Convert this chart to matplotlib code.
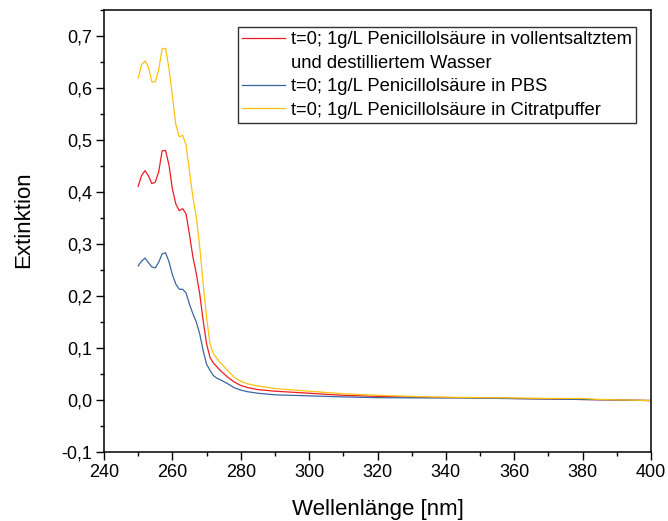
import numpy as np
import matplotlib
matplotlib.use('Agg')
import matplotlib.pyplot as plt
from matplotlib.ticker import MultipleLocator, FuncFormatter
from matplotlib.lines import Line2D

plt.rcParams['font.family'] = ['Liberation Sans', 'DejaVu Sans']

# wavelength grid [nm]
wl = [250, 251, 252, 253, 254, 255, 256, 257, 258, 259, 260, 261, 262, 263,
      264, 265, 266, 267, 268, 269, 270, 271, 272, 273, 274, 276, 278, 280,
      282, 285, 290, 300, 310, 320, 335, 345, 360, 370, 380, 385, 400]

# extinction, deionised + distilled water
ext_water = [0.411, 0.432, 0.441, 0.431, 0.416, 0.419, 0.439, 0.479, 0.480,
             0.452, 0.406, 0.377, 0.364, 0.368, 0.358, 0.318, 0.275, 0.243,
             0.204, 0.153, 0.108, 0.082, 0.071, 0.064, 0.057, 0.045, 0.035,
             0.028, 0.024, 0.020, 0.017, 0.013, 0.009, 0.007, 0.005, 0.0045,
             0.003, 0.002, 0.001, 0.0005, -0.001]

# extinction, PBS
ext_pbs = [0.258, 0.267, 0.273, 0.264, 0.256, 0.254, 0.265, 0.281, 0.283,
           0.266, 0.241, 0.223, 0.213, 0.213, 0.206, 0.184, 0.166, 0.150,
           0.127, 0.095, 0.069, 0.057, 0.047, 0.042, 0.039, 0.032, 0.024,
           0.019, 0.016, 0.013, 0.010, 0.008, 0.006, 0.0045, 0.004, 0.004,
           0.0026, 0.002, 0.001, 0.0005, -0.001]

# extinction, citrate buffer
ext_citrat = [0.619, 0.645, 0.652, 0.640, 0.612, 0.612, 0.635, 0.676, 0.676,
              0.638, 0.585, 0.530, 0.506, 0.509, 0.490, 0.440, 0.390, 0.352,
              0.294, 0.224, 0.159, 0.108, 0.089, 0.080, 0.072, 0.058, 0.044,
              0.036, 0.031, 0.027, 0.022, 0.017, 0.012, 0.009, 0.006, 0.005,
              0.004, 0.003, 0.003, 0.001, -0.001]

labels = ['t=0; 1g/L Penicillolsäure in vollentsaltztem',
          'und destilliertem Wasser',
          't=0; 1g/L Penicillolsäure in PBS',
          't=0; 1g/L Penicillolsäure in Citratpuffer']

c_red = '#ED1C24'
c_blue = '#3A67A3'
c_yel = '#FFC20E'

fig = plt.figure(figsize=(6.68, 5.21), dpi=100)
ax = fig.add_axes([0.1557, 0.1324, 0.8189, 0.8484])

ax.plot(wl, ext_water, color=c_red, lw=0.9)
ax.plot(wl, ext_pbs, color=c_blue, lw=0.9)
ax.plot(wl, ext_citrat, color=c_yel, lw=0.9)

ax.set_xlim(240, 400)
ax.set_ylim(-0.1, 0.75)
ax.xaxis.set_major_locator(MultipleLocator(20))
ax.xaxis.set_minor_locator(MultipleLocator(10))
ax.yaxis.set_major_locator(MultipleLocator(0.1))
ax.yaxis.set_minor_locator(MultipleLocator(0.05))
ax.yaxis.set_major_formatter(FuncFormatter(lambda v, p: '{:.1f}'.format(v).replace('.', ',')))
ax.tick_params(which='major', direction='out', length=5.5, width=1.0, labelsize=13, pad=3)
ax.tick_params(which='minor', direction='out', length=3, width=1.0)
for s in ax.spines.values():
    s.set_linewidth(1.1)

ax.set_xlabel('Wellenlänge [nm]', fontsize=16, labelpad=13)
ax.set_ylabel('Extinktion', fontsize=16)
ax.yaxis.set_label_coords(-0.127, 0.525)

handles = [Line2D([], [], color=c_red, lw=0.9),
           Line2D([], [], color='none'),
           Line2D([], [], color=c_blue, lw=0.9),
           Line2D([], [], color=c_yel, lw=0.9)]
leg = ax.legend(handles, labels, loc='upper right', bbox_to_anchor=(0.9726, 0.9615),
                fontsize=13.2, frameon=True, fancybox=False, edgecolor='black',
                handlelength=2.3, handletextpad=0.35, labelspacing=0.36,
                borderpad=0.22, borderaxespad=0)
leg.get_frame().set_linewidth(1.0)

fig.savefig('out.png', dpi=100)
